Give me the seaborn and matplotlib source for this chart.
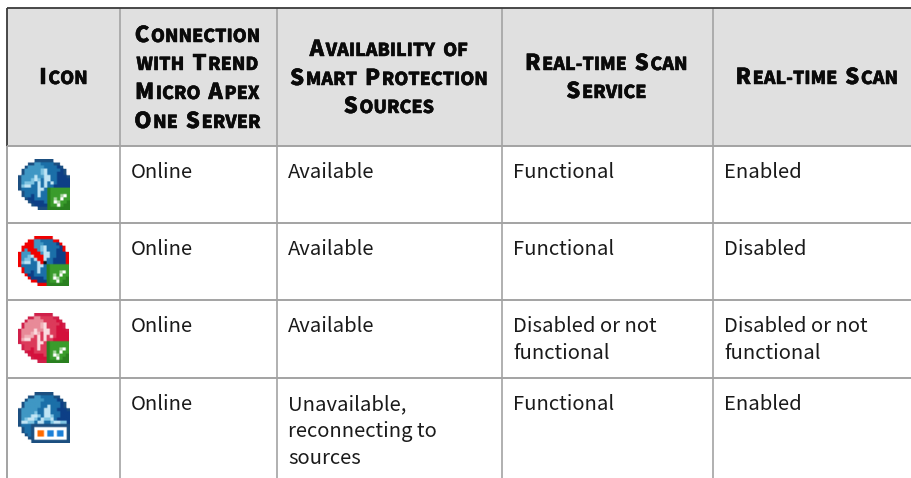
import re
import numpy as np
import matplotlib
matplotlib.use('Agg')
import matplotlib.pyplot as plt
import matplotlib.patheffects as pe
from matplotlib.colors import to_rgba
import seaborn as sns

# table content
header_lines = [
    ['Icon'],
    ['Connection', 'with Trend', 'Micro Apex', 'One Server'],
    ['Availability of', 'Smart Protection', 'Sources'],
    ['Real-time Scan', 'Service'],
    ['Real-time Scan'],
]
body_rows = [
    [['Online'], ['Available'], ['Functional'], ['Enabled']],
    [['Online'], ['Available'], ['Functional'], ['Disabled']],
    [['Online'], ['Available'], ['Disabled or not', 'functional'], ['Disabled or not', 'functional']],
    [['Online'], ['Unavailable,', 'reconnecting to', 'sources'], ['Functional'], ['Enabled']],
]
header_fill = [[1]]

# layout in pixels
W, H = 911, 478
col_x = [7, 120, 277, 502, 713]
head_cx = [64, 198, 389.5, 607, 817.5]
head_base = [
    [84],
    [42, 70, 99, 128],
    [56, 85, 113],
    [70, 98],
    [84],
]
row_y = [146, 223, 300, 378]
body_base = [178, 255, 332, 410]
line_gap = 27
icon_box = [(18, 70, 159, 210), (18, 69, 236, 286), (18, 69, 313, 363), (18, 70, 392, 443)]

# 16x16 status icons
icon_ok = [
    '.....dddddd.....',
    '...ddllbbbbdd...',
    '..dlllllbbbbnd..',
    '.dlllllcwbbbbnd.',
    '.dlllllcwbbbnnd.',
    'dllllwllwwbbnnnd',
    'dlllcwcbwwbbnnnn',
    'dlcccbwbwbwbnnnn',
    'dcwwbbwbwbbnnnnn',
    'dbbbbbwwbGgggggg',
    '.dbbbbwbbGgggggg',
    '.dbbnbwbbGgggmWg',
    '..dnnbbbbGgmgWgg',
    '...dnnnnbGgWmggG',
    '....dnnnnGggWgGG',
    '......dddGGGGGGG',
]
icon_off = [
    '.....rrrrrr.....',
    '...rrllbbbbrr...',
    '..rrrlllbbbbnr..',
    '.rrrrllcwbbbbnr.',
    '.rlrrrlcwbbbnnr.',
    'rlllrrrlwwbbnnnr',
    'rllcwrrrwwbbnnnr',
    'rlccbwrrwbbnnnnr',
    'rcwwbbwrkbbnnnnr',
    'rbbbbbwwbGgggggg',
    '.rbbbbwbbGgggggg',
    '.rbbnbwbbGgggmWg',
    '..rnnbbbbGgmgWgg',
    '...rnnnnbGgWmggG',
    '....rrnnnGggWgGG',
    '......rrrGGGGGGG',
]
icon_wait = [
    '.....dddddd.....',
    '...ddllbbbbdd...',
    '..dlllllbbbbnd..',
    '.dlllllbbbbbbnd.',
    '.dlllllbbwbbbnd.',
    'dlllllbbwwbbnnnd',
    'dllllcbbwwbbbnnn',
    'dlllwwcbwwcbbnnn',
    'dlcwwcbwccwbnnnn',
    'dwwccbwwbbcwwccn',
    'dbbbdddddddddddd',
    '.dbbdWWWWWWWWWWd',
    '.dbbdWooWaaWaaWd',
    '..dbdWooWaaWaaWd',
    '...ddWWWWWWWWWWd',
    '....dddddddddddd',
]
blue_colors = {'d': '#1c4f80', 'n': '#0d3f86', 'b': '#1b6fa8', 'l': '#3f97c4',
               'c': '#7fc4e2', 'w': '#c0e4f4', 'g': '#3a9c2c', 'G': '#2a8020',
               'm': '#a8d8a0', 'W': '#ffffff', 'r': '#f00000', 'k': '#101010',
               'o': '#ff6a00', 'a': '#1c80d8'}
red_colors = dict(blue_colors, d='#d0204a', n='#d4103c', b='#dc3a5a', l='#e88a98',
                  c='#f0b0b8', w='#fadde0')
icons = [(icon_ok, blue_colors), (icon_off, blue_colors), (icon_ok, red_colors), (icon_wait, blue_colors)]

GRID = '#a3a3a3'
DARK = '#3a3a3a'
BODY_SIZE = 14.55
BIG = 15.8
SMALL = 12.8
TRACK = 1.6
FONT = 'Noto Sans CJK JP'


def draw_icon(ax, rows, colors, box):
    img = np.array([[to_rgba(colors[c]) if c != '.' else (1, 1, 1, 0) for c in r.ljust(16, '.')] for r in rows])
    img = np.kron(img, np.ones((2, 2, 1)))
    ax.imshow(img, extent=(box[0], box[1], box[3], box[2]), interpolation='bilinear', aspect='auto', zorder=3)


def small_caps(ax, text, cx, y, renderer):
    """Centre one line of small caps, built from big and small runs."""
    parts = []
    for word in text.split(' '):
        for run in re.findall(r'[A-Z]+|[^A-Z]+', word):
            size = BIG if run[0].isupper() else SMALL
            t = ax.text(0, y, run.upper(), fontsize=size, fontweight='black', family=FONT,
                        color='#0a0a0a', va='baseline', ha='left')
            t.set_path_effects([pe.withStroke(linewidth=0.35, foreground='#0a0a0a')])
            parts.append(t)
        parts.append(None)
    parts.pop()
    widths = [6.5 if p is None else p.get_window_extent(renderer).width + TRACK for p in parts]
    x = cx - sum(widths) / 2
    for p, w in zip(parts, widths):
        if p is not None:
            p.set_x(x)
        x += w


sns.set_theme(style='white')
plt.rcParams['font.family'] = [FONT, 'DejaVu Sans']

fig = plt.figure(figsize=(W / 100, H / 100), dpi=100)
fig.patch.set_facecolor('white')

ax_head = fig.add_axes([col_x[0] / W, (H - row_y[0]) / H, (W - col_x[0]) / W, (row_y[0] - 8) / H])
sns.heatmap(header_fill, cmap=['#e0e0e0'], cbar=False, xticklabels=False, yticklabels=False, ax=ax_head)

ax = fig.add_axes([0, 0, 1, 1])
ax.patch.set_alpha(0)
ax.axis('off')
renderer = fig.canvas.get_renderer()

for (rows, colors), box in zip(icons, icon_box):
    draw_icon(ax, rows, colors, box)
ax.set_xlim(0, W)
ax.set_ylim(H, 0)

# grid
for x in col_x[1:]:
    ax.plot([x, x], [8, H], color=GRID, lw=1.2, solid_capstyle='butt')
ax.plot([col_x[0], col_x[0]], [8, row_y[0]], color=DARK, lw=1.3, solid_capstyle='butt')
ax.plot([col_x[0], col_x[0]], [row_y[0], H], color=GRID, lw=1.4, solid_capstyle='butt')
for y in row_y:
    ax.plot([col_x[0], W], [y, y], color=GRID, lw=1.4, solid_capstyle='butt')
ax.plot([col_x[0], W], [8, 8], color=DARK, lw=1.3, solid_capstyle='butt')

# header
for lines, cx, bases in zip(header_lines, head_cx, head_base):
    for text, y in zip(lines, bases):
        small_caps(ax, text, cx, y, renderer)

# body
for row, base in zip(body_rows, body_base):
    for cell, x in zip(row, col_x[1:]):
        for i, text in enumerate(cell):
            ax.text(x + 11, base + i * line_gap, text, fontsize=BODY_SIZE, color='#1a1a1a', va='baseline', ha='left', family=FONT)

fig.savefig('out.png', dpi=100)
